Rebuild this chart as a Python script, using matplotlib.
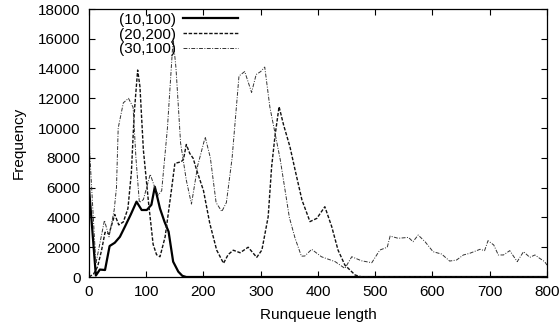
import matplotlib
matplotlib.use("Agg")
import matplotlib.pyplot as plt

plt.rcParams['font.family'] = ['Liberation Sans', 'DejaVu Sans']

# (10,100) solid
x1 = [0, 12, 19, 28, 36, 45, 54, 63, 73, 83, 92, 101, 109, 115, 124, 132, 139, 147, 156, 163, 170, 200, 400, 600, 800]
y1 = [6000, 100, 500, 470, 2080, 2300, 2700, 3400, 4200, 5060, 4500, 4500, 4850, 6060, 4600, 3700, 3050, 1030, 360, 80, 0, 0, 0, 0, 0]

# (20,200) dashed
x2 = [0, 8, 15, 22, 28, 35, 45, 52, 60, 68, 74, 79, 85, 89, 95, 104, 112, 118, 124, 133, 144, 150, 161, 165, 170, 176, 182, 188, 200, 211, 223, 235,
      243, 252, 264, 278, 293, 302, 313, 319, 325, 332, 340, 351, 360, 372, 386, 398, 412, 424, 435, 447, 465, 477, 600, 800]
y2 = [0, 200, 690, 1800, 3000, 2900, 4200, 3500, 3700, 4600, 7000, 11000, 13900, 12780, 8530, 5000, 2200, 1500, 1360, 2700, 5840, 7630, 7740, 7900, 8900, 8300, 7970, 7190, 5800, 3600, 1810, 920,
      1500, 1800, 1630, 2000, 1320, 1810, 4050, 7400, 9500, 11440, 10200, 8750, 7190, 5170, 3720, 3940, 4720, 3380, 1810, 800, 130, 0, 0, 0]

# (30,100) dash-dot
x3 = [0, 12, 27, 35, 44, 48, 51, 60, 69, 77, 82, 88, 95, 107, 115, 121, 127, 137, 147, 152, 160, 170, 179, 190, 203, 212, 222, 232, 240, 250, 262, 272, 284, 292, 300, 307, 316,
      334, 350, 360, 371, 377, 389, 406, 430, 447, 459, 476, 494, 508, 521, 526, 540, 558, 566, 575, 587, 601, 616, 630, 642, 654, 665, 683, 691, 697, 707, 715, 724, 735, 748, 759, 770, 779, 787, 796, 800]
y3 = [9200, 900, 3800, 2700, 4500, 6000, 10000, 11700, 12000, 11400, 8000, 5000, 5200, 6900, 6000, 5500, 5800, 10000, 16000, 14000, 9000, 6500, 4900, 7500, 9400, 8000, 5000, 4400, 5000, 8000, 13500, 13800, 12400, 13600, 13800, 14100, 11400,
      7900, 4000, 2600, 1400, 1410, 1860, 1360, 1030, 580, 1360, 1090, 960, 1810, 2000, 2750, 2600, 2660, 2370, 2820, 2370, 1700, 1540, 1070, 1140, 1480, 1590, 1860, 1770, 2440, 2150, 1480, 1480, 1770, 1030, 1700, 1320, 1480, 1260, 1030, 800]

labels = ['(10,100)', '(20,200)', '(30,100)']
xticks = list(range(0, 801, 100))
yticks = list(range(0, 18001, 2000))

fig = plt.figure(figsize=(5.59, 3.30), dpi=100)
ax = fig.add_axes([0.1592, 0.1606, 0.8193, 0.8121])

ax.plot(x1, y1, color='black', lw=1.6, label=labels[0])
ax.plot(x2, y2, color='#111111', lw=1.0, linestyle=(0, (2.5, 1.2)), label=labels[1])
ax.plot(x3, y3, color='#333333', lw=0.7, linestyle=(0, (4, 1.5, 1, 1.5)), label=labels[2])

ax.set_xlim(0, 800)
ax.set_ylim(0, 18000)
ax.set_xticks(xticks)
ax.set_yticks(yticks)
ax.tick_params(direction='in', top=True, right=True, length=4, width=0.8, labelsize=11)
ax.tick_params(axis='y', pad=6)
ax.tick_params(axis='x', pad=6)
for s in ax.spines.values():
    s.set_linewidth(0.9)
ax.set_xlabel('Runqueue length', fontsize=11, labelpad=6)
ax.set_ylabel('Frequency', fontsize=11, labelpad=9)

leg = ax.legend(loc='upper left', bbox_to_anchor=(0.045, 1.02), frameon=False, markerfirst=False,
                fontsize=11, handlelength=3.6, handletextpad=0.5, labelspacing=0.05, borderaxespad=0.2)

fig.savefig('out.png', dpi=100)
